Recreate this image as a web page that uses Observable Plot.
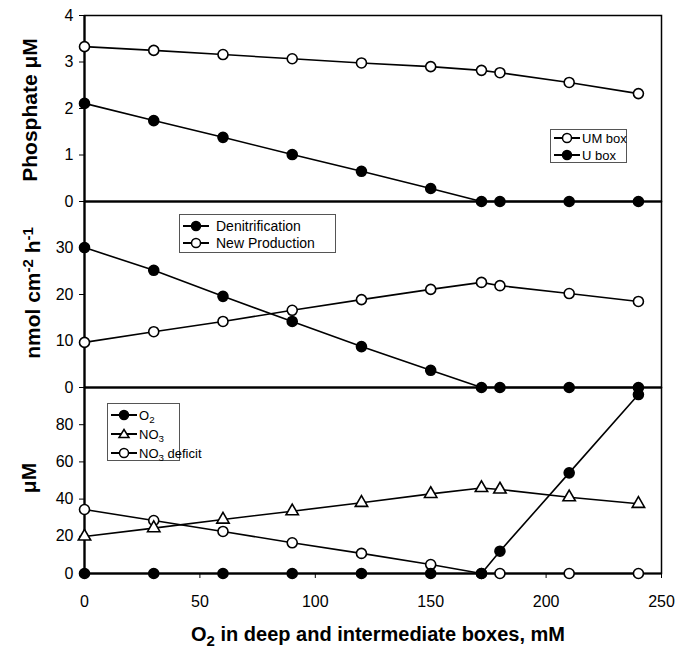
<!DOCTYPE html>
<html><head><meta charset="utf-8">
<script src="https://cdn.jsdelivr.net/npm/d3@7"></script>
<script src="https://cdn.jsdelivr.net/npm/@observablehq/plot@0.6"></script>
<style>
body{margin:0;background:#fff;font-family:"Liberation Sans",Arial,sans-serif;}
#wrap{position:relative;width:688px;height:650px;overflow:hidden;}
.panel{position:absolute;left:0;}
.ytitle{position:absolute;font-weight:bold;font-size:21px;white-space:nowrap;transform:translate(-50%,-50%) rotate(-90deg);color:#000;}
.ytitle sup{font-size:15px;vertical-align:7px;line-height:0;}
.xtitle{position:absolute;font-weight:bold;font-size:20px;white-space:nowrap;transform:translate(-50%,-50%);}
.xtitle sub{font-size:15px;vertical-align:-5px;line-height:0;}
.legend{position:absolute;border:1px solid #555;background:#fff;box-sizing:border-box;}
.legend .row{position:absolute;left:0;display:flex;align-items:center;white-space:nowrap;}
.legend .row svg{display:block;}
.legend sub{font-size:0.75em;vertical-align:-3px;line-height:0;}
</style>
</head><body>
<div id="wrap"></div>
<script>
// x values: O2 in deep and intermediate boxes
const o2 = [0, 30, 60, 90, 120, 150, 172, 180, 210, 240];
// Panel 1: phosphate (µM)
const phosUM = [3.33, 3.25, 3.16, 3.07, 2.98, 2.90, 2.82, 2.77, 2.56, 2.32];
const phosU  = [2.11, 1.74, 1.38, 1.01, 0.65, 0.28, 0, 0, 0, 0];
// Panel 2: rates (nmol cm-2 h-1)
const denit   = [30.1, 25.2, 19.6, 14.2, 8.8, 3.7, 0, 0, 0, 0];
const newProd = [9.7, 12.0, 14.2, 16.6, 18.9, 21.1, 22.6, 21.9, 20.2, 18.5];
// Panel 3: concentrations (µM)
const o2Conc     = [0, 0, 0, 0, 0, 0, 0, 12.0, 54.1, 96.2];
const no3        = [19.9, 24.4, 29.0, 33.5, 38.0, 42.8, 46.0, 45.2, 41.0, 37.5];
const no3Deficit = [34.4, 28.5, 22.6, 16.5, 10.8, 4.8, 0, 0, 0, 0];
// ticks
const xTicks = [0, 50, 100, 150, 200, 250];
const phosTicks = [0, 1, 2, 3, 4];
const rateTicks = [0, 10, 20, 30];
const concTicks = [0, 20, 40, 60, 80];

const rows = arr => o2.map((x, i) => ({x, y: arr[i]}));
const wrap = document.getElementById("wrap");

function seriesMarks(arr, symbol, fill) {
  const d = rows(arr);
  return [
    Plot.line(d, {x: "x", y: "y", stroke: "black", strokeWidth: 1.6}),
    Plot.dot(d, {x: "x", y: "y", r: symbol === "triangle" ? 4.6 : 5, symbol, fill, stroke: "black", strokeWidth: 1.6})
  ];
}

function panel({top, marginTop, marginBottom, yDomain, yTicks, series, xAxis}) {
  const height = marginTop + 186 + marginBottom;
  const p = Plot.plot({
    width: 688, height,
    marginLeft: 84, marginRight: 27, marginTop, marginBottom,
    style: {background: "transparent", fontSize: "16px", fontFamily: "'Liberation Sans', Arial, sans-serif", overflow: "visible", color: "black"},
    x: xAxis ? {domain: [0, 250], ticks: xTicks, tickSize: 5, tickPadding: 17, tickFormat: d => String(d), label: null}
             : {domain: [0, 250], axis: null},
    y: {domain: yDomain, ticks: yTicks, tickSize: 5, tickPadding: 6, tickFormat: d => String(d), label: null},
    marks: [
      Plot.frame({stroke: "black", strokeWidth: 1.5}),
      Plot.ruleX([0], {stroke: "black", strokeWidth: 2.2}),
      Plot.ruleY([0], {stroke: "black", strokeWidth: 2.2}),
      ...series.flatMap(s => seriesMarks(...s))
    ]
  });
  p.classList.add("panel");
  p.style.top = top + "px";
  p.style.position = "absolute";
  wrap.appendChild(p);
}

panel({top: 0, marginTop: 15, marginBottom: 10, yDomain: [0, 4], yTicks: phosTicks,
  series: [[phosUM, "circle", "white"], [phosU, "circle", "black"]]});
panel({top: 191, marginTop: 10, marginBottom: 10, yDomain: [0, 40], yTicks: rateTicks,
  series: [[newProd, "circle", "white"], [denit, "circle", "black"]]});
panel({top: 377, marginTop: 10, marginBottom: 42, yDomain: [0, 100], yTicks: concTicks, xAxis: true,
  series: [[no3Deficit, "circle", "white"], [no3, "triangle", "white"], [o2Conc, "circle", "black"]]});

// axis titles
function addTitle(cls, html, x, y) {
  const d = document.createElement("div");
  d.className = cls; d.innerHTML = html;
  d.style.left = x + "px"; d.style.top = y + "px";
  wrap.appendChild(d);
}
addTitle("ytitle", "Phosphate \u03BCM", 30, 110);
addTitle("ytitle", "nmol cm<sup>-2</sup> h<sup>-1</sup>", 33, 293);
addTitle("ytitle", "\u03BCM", 29, 478);
addTitle("xtitle", "O<sub>2</sub> in deep and intermediate boxes, mM", 378, 634);

// legends
function symbolSvg(symbol, fill, len) {
  const c = len / 2;
  const m = symbol === "triangle"
    ? `<path d="M${c},3.5 L${c+5},11.5 L${c-5},11.5 Z" fill="${fill}" stroke="black" stroke-width="1.5"/>`
    : `<circle cx="${c}" cy="8" r="4.5" fill="${fill}" stroke="black" stroke-width="1.5"/>`;
  return `<svg width="${len}" height="16"><line x1="1" y1="8" x2="${len-1}" y2="8" stroke="black" stroke-width="2"/>${m}</svg>`;
}
function legend(left, top, w, h, fontSize, lineLen, gap, items) {
  const d = document.createElement("div");
  d.className = "legend";
  Object.assign(d.style, {left: left + "px", top: top + "px", width: w + "px", height: h + "px", fontSize: fontSize + "px"});
  d.innerHTML = items.map(([label, symbol, fill, cy]) =>
    `<div class="row" style="top:${cy - 8}px;left:2px">${symbolSvg(symbol, fill, lineLen)}<span style="margin-left:${gap}px">${label}</span></div>`).join("");
  wrap.appendChild(d);
}
legend(550, 129, 77, 34, 13, 28, 1, [["UM box", "circle", "white", 8], ["U box", "circle", "black", 25]]);
legend(179, 214, 157, 39, 14, 28, 6, [["Denitrification", "circle", "black", 11], ["New Production", "circle", "white", 28]]);
legend(107, 403, 73, 58, 13, 28, 1, [["O<sub>2</sub>", "circle", "black", 11], ["NO<sub>3</sub>", "triangle", "white", 30], ["NO<sub>3</sub> deficit", "circle", "white", 49]]);
</script>
</body></html>
